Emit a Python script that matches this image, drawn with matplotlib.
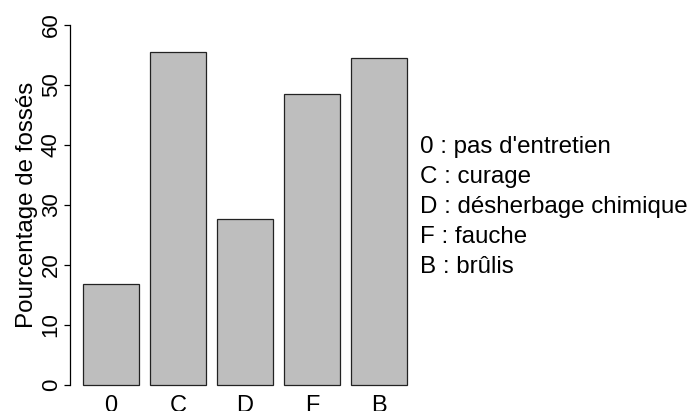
import numpy as np
import matplotlib
matplotlib.use("Agg")
import matplotlib.pyplot as plt

plt.rcParams['font.family'] = ['Liberation Sans', 'DejaVu Sans']

categories = ["0", "C", "D", "F", "B"]
values = [16.8, 55.5, 27.7, 48.5, 54.5]
legend_lines = ["0 : pas d'entretien", "C : curage", "D : désherbage chimique",
                "F : fauche", "B : brûlis"]
yticks = [0, 10, 20, 30, 40, 50, 60]

W, H = 689, 411
fig = plt.figure(figsize=(W / 100, H / 100), dpi=100)
# plot region like R's barplot (4% extension)
ax = fig.add_axes([70 / W, (H - 399.4) / H, 350 / W, 388.8 / H])

# R barplot positions: width 1, space 0.2
x = 0.7 + 1.2 * np.arange(len(values))
ax.bar(x, values, width=1.0, color="#bebebe", edgecolor="#222222", linewidth=0.9)
ax.set_xlim(-0.032, 6.232)
ax.set_ylim(-2.4, 62.4)

for s in ["top", "right", "bottom"]:
    ax.spines[s].set_visible(False)
ax.spines["left"].set_bounds(0, 60)
ax.spines["left"].set_linewidth(0.9)

fs = 17.4
ax.set_yticks(yticks)
ax.set_yticklabels([str(t) for t in yticks], rotation=90, va="center", fontsize=16)
ax.tick_params(axis="y", length=4.5, width=0.9, pad=1.5)
ax.set_xticks(x)
ax.set_xticklabels(categories, fontsize=17)
ax.tick_params(axis="x", length=0, pad=-3.5)
ax.set_ylabel("Pourcentage de fossés", fontsize=fs, labelpad=2)

for i, line in enumerate(legend_lines):
    fig.text(420 / W, 1 - (147 + 30 * i) / H, line, fontsize=fs, va="center", ha="left")

fig.savefig("out.png", dpi=100)
